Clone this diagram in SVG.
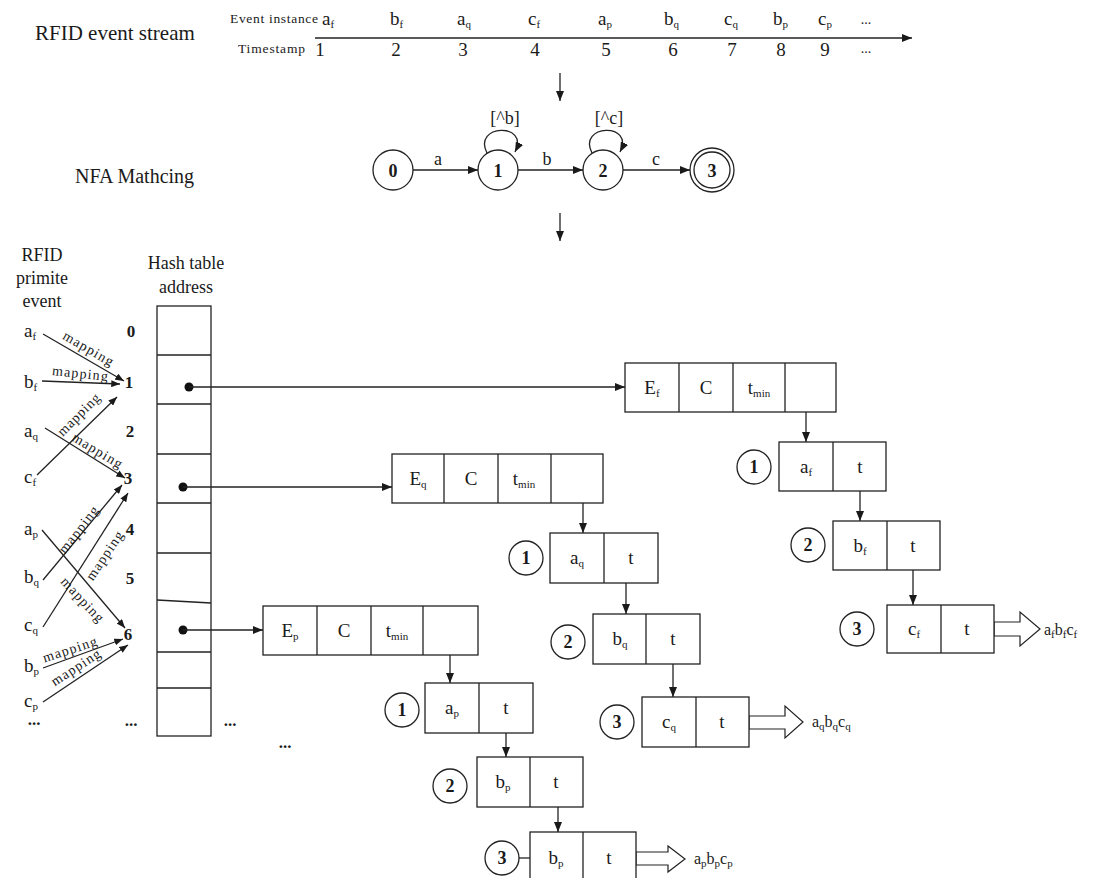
<svg xmlns="http://www.w3.org/2000/svg" width="1098" height="878" viewBox="0 0 1098 878">
<defs>
<style>
.t{font-family:"Liberation Serif","Times New Roman",serif;fill:#1a1a1a}
.s{font-size:11px}
.lb{font-size:19px}
.b{font-weight:bold}
.ln{stroke:#222;stroke-width:1.3;fill:none}
.bx{fill:#fff;stroke:#222;stroke-width:1.3}
.cr{fill:#fff;stroke:#222;stroke-width:1.3}
.ha{fill:#fff;stroke:#222;stroke-width:1.2}
</style>
<marker id="ah" viewBox="0 0 10 8" refX="10" refY="4" markerWidth="10" markerHeight="8" orient="auto" markerUnits="userSpaceOnUse"><path d="M0,0 L10,4 L0,8 z" fill="#1a1a1a"/></marker>
<marker id="ahs" viewBox="0 0 10 8" refX="10" refY="4" markerWidth="9" markerHeight="7" orient="auto" markerUnits="userSpaceOnUse"><path d="M0,0 L10,4 L0,8 z" fill="#1a1a1a"/></marker>
</defs>
<rect width="1098" height="878" fill="#fff"/>

<!-- Event stream -->
<g id="event-stream">
<text class="t" x="35" y="40" font-size="21">RFID event stream</text>
<text class="t" x="230" y="23" font-size="13.5" textLength="88" lengthAdjust="spacing">Event instance</text>
<text class="t" x="238" y="53" font-size="13.5" textLength="67" lengthAdjust="spacing">Timestamp</text>
<line class="ln" x1="315" y1="38" x2="912" y2="38" marker-end="url(#ah)"/>
<g class="t" font-size="19">
<text x="322" y="25">a<tspan class="s" dy="3">f</tspan></text>
<text x="390" y="25">b<tspan class="s" dy="3">f</tspan></text>
<text x="457" y="25">a<tspan class="s" dy="3">q</tspan></text>
<text x="528" y="25">c<tspan class="s" dy="3">f</tspan></text>
<text x="598" y="25">a<tspan class="s" dy="3">p</tspan></text>
<text x="664" y="25">b<tspan class="s" dy="3">q</tspan></text>
<text x="724" y="25">c<tspan class="s" dy="3">q</tspan></text>
<text x="773" y="25">b<tspan class="s" dy="3">p</tspan></text>
<text x="818" y="25">c<tspan class="s" dy="3">p</tspan></text>
<text x="866" y="24" text-anchor="middle" font-size="14">...</text>
</g>
<g class="t" font-size="19" text-anchor="middle">
<text x="320" y="56">1</text><text x="396" y="56">2</text><text x="463" y="56">3</text>
<text x="535" y="56">4</text><text x="606" y="56">5</text><text x="673" y="56">6</text>
<text x="732" y="56">7</text><text x="781" y="56">8</text><text x="825" y="56">9</text>
<text x="866" y="53" font-size="14">...</text>
</g>
</g>

<g id="down-arrows">
<line class="ln" x1="560" y1="73" x2="560" y2="101" marker-end="url(#ah)"/>
<line class="ln" x1="560" y1="213" x2="560" y2="241" marker-end="url(#ah)"/>
</g>

<!-- NFA -->
<g id="nfa">
<text class="t" x="75" y="183" font-size="20">NFA Mathcing</text>
<g id="s0"><circle class="cr" cx="393" cy="170" r="20"/><text class="t b" x="393" y="177" font-size="18" text-anchor="middle">0</text></g>
<g id="s1"><circle class="cr" cx="498" cy="170" r="20"/><text class="t b" x="498" y="177" font-size="18" text-anchor="middle">1</text></g>
<g id="s2"><circle class="cr" cx="603" cy="170" r="20"/><text class="t b" x="603" y="177" font-size="18" text-anchor="middle">2</text></g>
<g id="s3"><circle class="cr" cx="712" cy="170" r="22"/><circle class="cr" cx="712" cy="170" r="18"/><text class="t b" x="712" y="177" font-size="18" text-anchor="middle">3</text></g>
<g id="nfa-edges">
<line class="ln" x1="413" y1="170" x2="478" y2="170" marker-end="url(#ah)"/>
<line class="ln" x1="518" y1="170" x2="583" y2="170" marker-end="url(#ah)"/>
<line class="ln" x1="623" y1="170" x2="690" y2="170" marker-end="url(#ah)"/>
<path class="ln" d="M487,153 C472,124 530,122 515,152" marker-end="url(#ah)"/>
<path class="ln" d="M592,153 C577,124 635,122 620,152" marker-end="url(#ah)"/>
<g class="t" font-size="18" text-anchor="middle">
<text x="438" y="165">a</text><text x="547" y="165">b</text><text x="656" y="165">c</text>
<text x="505" y="124">[^b]</text><text x="609" y="124">[^c]</text>
</g>
</g>
</g>

<!-- Primitive events -->
<g id="primitive-events" class="t">
<g font-size="18" text-anchor="middle"><text x="42" y="261">RFID</text><text x="42" y="284">primite</text><text x="42" y="307">event</text></g>
<g font-size="19">
<text x="24" y="337">a<tspan class="s" dy="3">f</tspan></text>
<text x="24" y="388">b<tspan class="s" dy="3">f</tspan></text>
<text x="24" y="437">a<tspan class="s" dy="3">q</tspan></text>
<text x="24" y="483">c<tspan class="s" dy="3">f</tspan></text>
<text x="24" y="535">a<tspan class="s" dy="3">p</tspan></text>
<text x="24" y="583">b<tspan class="s" dy="3">q</tspan></text>
<text x="24" y="631">c<tspan class="s" dy="3">q</tspan></text>
<text x="24" y="672">b<tspan class="s" dy="3">p</tspan></text>
<text x="24" y="707">c<tspan class="s" dy="3">p</tspan></text>
<text x="34" y="725" text-anchor="middle" font-weight="bold" font-size="17">...</text>
</g>
</g>

<!-- Hash table -->
<g id="hash-table">
<g class="t" font-size="18" text-anchor="middle"><text x="186" y="269">Hash table</text><text x="186" y="293">address</text></g>
<rect class="bx" x="157" y="306" width="54" height="430"/>
<g class="ln">
<line x1="157" y1="355" x2="211" y2="355"/><line x1="157" y1="404" x2="211" y2="404"/>
<line x1="157" y1="454" x2="211" y2="454"/><line x1="157" y1="503" x2="211" y2="503"/>
<line x1="157" y1="553" x2="211" y2="553"/><line x1="157" y1="600" x2="211" y2="603"/>
<line x1="157" y1="652" x2="211" y2="652"/><line x1="157" y1="688" x2="211" y2="688"/>
</g>
<g class="t b" font-size="17" text-anchor="middle">
<text x="131" y="337">0</text><text x="129" y="388">1</text><text x="130" y="437">2</text>
<text x="128" y="484">3</text><text x="130" y="535">4</text><text x="130" y="584">5</text>
<text x="128" y="640">6</text><text x="131" y="726">...</text>
</g>
<text class="t b" x="230" y="726" font-size="17" text-anchor="middle">...</text>
<circle cx="189" cy="387" r="4.5" fill="#111"/>
<circle cx="183" cy="487" r="4.5" fill="#111"/>
<circle cx="183" cy="630" r="4.5" fill="#111"/>
</g>

<!-- Connectors -->
<g id="connectors">
<g id="mapping-lines">
<line class="ln" x1="43" y1="334" x2="124" y2="381" marker-end="url(#ahs)"/>
<line class="ln" x1="42" y1="381" x2="120" y2="384" marker-end="url(#ahs)"/>
<line class="ln" x1="37" y1="475" x2="117" y2="397" marker-end="url(#ahs)"/>
<line class="ln" x1="45" y1="428" x2="125" y2="478" marker-end="url(#ahs)"/>
<line class="ln" x1="43" y1="580" x2="122" y2="485" marker-end="url(#ahs)"/>
<line class="ln" x1="43" y1="627" x2="128" y2="493" marker-end="url(#ahs)"/>
<line class="ln" x1="42" y1="530" x2="125" y2="628" marker-end="url(#ahs)"/>
<line class="ln" x1="43" y1="668" x2="123" y2="639" marker-end="url(#ahs)"/>
<line class="ln" x1="43" y1="702" x2="128" y2="645" marker-end="url(#ahs)"/>
<g class="t" font-size="14" text-anchor="middle">
<text transform="translate(88,349) rotate(30)" y="4" textLength="56" lengthAdjust="spacing">mapping</text>
<text transform="translate(80,374) rotate(6)" y="4" textLength="56" lengthAdjust="spacing">mapping</text>
<text transform="translate(79,415) rotate(-45)" y="4" textLength="54" lengthAdjust="spacing">mapping</text>
<text transform="translate(97,451) rotate(31)" y="4" textLength="56" lengthAdjust="spacing">mapping</text>
<text transform="translate(79,530) rotate(-52)" y="4" textLength="56" lengthAdjust="spacing">mapping</text>
<text transform="translate(105,556) rotate(-56)" y="4" textLength="56" lengthAdjust="spacing">mapping</text>
<text transform="translate(82,600) rotate(47)" y="4" textLength="56" lengthAdjust="spacing">mapping</text>
<text transform="translate(70,650) rotate(-18)" y="4" textLength="56" lengthAdjust="spacing">mapping</text>
<text transform="translate(76,668) rotate(-33)" y="4" textLength="56" lengthAdjust="spacing">mapping</text>
</g>
</g>
<line class="ln" x1="189" y1="387" x2="625" y2="387" marker-end="url(#ah)"/>
<line class="ln" x1="183" y1="487" x2="392" y2="487" marker-end="url(#ah)"/>
<line class="ln" x1="183" y1="630" x2="263" y2="630" marker-end="url(#ah)"/>
<line class="ln" x1="806" y1="387" x2="806" y2="442" marker-end="url(#ah)"/>
<line class="ln" x1="860" y1="491" x2="860" y2="521" marker-end="url(#ah)"/>
<line class="ln" x1="913" y1="570" x2="913" y2="605" marker-end="url(#ah)"/>
<line class="ln" x1="583" y1="478" x2="583" y2="533" marker-end="url(#ah)"/>
<line class="ln" x1="626" y1="583" x2="626" y2="614" marker-end="url(#ah)"/>
<line class="ln" x1="673" y1="664" x2="673" y2="697" marker-end="url(#ah)"/>
<line class="ln" x1="450" y1="632" x2="450" y2="683" marker-end="url(#ah)"/>
<line class="ln" x1="506" y1="733" x2="506" y2="757" marker-end="url(#ah)"/>
<line class="ln" x1="558" y1="807" x2="558" y2="832" marker-end="url(#ah)"/>
<line class="ln" x1="519" y1="858" x2="530" y2="858"/>
<polygon class="ha" points="994,622 1020,622 1020,612 1040,629 1020,646 1020,636 994,636"/>
<polygon class="ha" points="749,716 785,716 785,706 803,722 785,738 785,729 749,729"/>
<polygon class="ha" points="636,852 668,852 668,846 685,859 668,872 668,865 636,865"/>
</g>

<!-- Record F -->
<g id="rec-f">
<rect class="bx" x="625" y="363" width="211" height="49"/>
<g class="ln"><line x1="679" y1="363" x2="679" y2="412"/><line x1="733" y1="363" x2="733" y2="412"/><line x1="785" y1="363" x2="785" y2="412"/></g>
<g class="t lb" text-anchor="middle">
<text x="652" y="394">E<tspan class="s" dy="3">f</tspan></text>
<text x="706" y="394">C</text>
<text x="759" y="394">t<tspan class="s" dy="3">min</tspan></text>
</g>
</g>
<g id="node-f1">
<circle class="cr" cx="754" cy="467" r="17"/><text class="t b" x="754" y="473" font-size="18" text-anchor="middle">1</text>
<rect class="bx" x="779" y="442" width="107" height="49"/><line class="ln" x1="833" y1="442" x2="833" y2="491"/>
<g class="t lb" text-anchor="middle"><text x="806" y="473">a<tspan class="s" dy="3">f</tspan></text><text x="860" y="473">t</text></g>
</g>
<g id="node-f2">
<circle class="cr" cx="808" cy="545" r="17"/><text class="t b" x="808" y="551" font-size="18" text-anchor="middle">2</text>
<rect class="bx" x="833" y="521" width="107" height="49"/><line class="ln" x1="887" y1="521" x2="887" y2="570"/>
<g class="t lb" text-anchor="middle"><text x="860" y="552">b<tspan class="s" dy="3">f</tspan></text><text x="913" y="552">t</text></g>
</g>
<g id="node-f3">
<circle class="cr" cx="857" cy="629" r="17"/><text class="t b" x="857" y="635" font-size="18" text-anchor="middle">3</text>
<rect class="bx" x="887" y="605" width="107" height="48"/><line class="ln" x1="941" y1="605" x2="941" y2="653"/>
<g class="t lb" text-anchor="middle"><text x="914" y="635">c<tspan class="s" dy="3">f</tspan></text><text x="967" y="635">t</text></g>
<text class="t" x="1044" y="635" font-size="16">a<tspan class="s" dy="3">f</tspan><tspan dy="-3">b</tspan><tspan class="s" dy="3">f</tspan><tspan dy="-3">c</tspan><tspan class="s" dy="3">f</tspan></text>
</g>

<!-- Record Q -->
<g id="rec-q">
<rect class="bx" x="392" y="454" width="211" height="49"/>
<g class="ln"><line x1="444" y1="454" x2="444" y2="503"/><line x1="498" y1="454" x2="498" y2="503"/><line x1="551" y1="454" x2="551" y2="503"/></g>
<g class="t lb" text-anchor="middle">
<text x="418" y="485">E<tspan class="s" dy="3">q</tspan></text>
<text x="471" y="485">C</text>
<text x="524" y="485">t<tspan class="s" dy="3">min</tspan></text>
</g>
</g>
<g id="node-q1">
<circle class="cr" cx="526" cy="558" r="17"/><text class="t b" x="526" y="564" font-size="18" text-anchor="middle">1</text>
<rect class="bx" x="550" y="533" width="108" height="50"/><line class="ln" x1="604" y1="533" x2="604" y2="583"/>
<g class="t lb" text-anchor="middle"><text x="577" y="564">a<tspan class="s" dy="3">q</tspan></text><text x="631" y="564">t</text></g>
</g>
<g id="node-q2">
<circle class="cr" cx="568" cy="642" r="17"/><text class="t b" x="568" y="648" font-size="18" text-anchor="middle">2</text>
<rect class="bx" x="593" y="614" width="107" height="50"/><line class="ln" x1="646" y1="614" x2="646" y2="664"/>
<g class="t lb" text-anchor="middle"><text x="620" y="645">b<tspan class="s" dy="3">q</tspan></text><text x="673" y="645">t</text></g>
</g>
<g id="node-q3">
<circle class="cr" cx="617" cy="722" r="17"/><text class="t b" x="617" y="728" font-size="18" text-anchor="middle">3</text>
<rect class="bx" x="642" y="697" width="107" height="50"/><line class="ln" x1="696" y1="697" x2="696" y2="747"/>
<g class="t lb" text-anchor="middle"><text x="669" y="728">c<tspan class="s" dy="3">q</tspan></text><text x="722" y="728">t</text></g>
<text class="t" x="812" y="727" font-size="16">a<tspan class="s" dy="3">q</tspan><tspan dy="-3">b</tspan><tspan class="s" dy="3">q</tspan><tspan dy="-3">c</tspan><tspan class="s" dy="3">q</tspan></text>
</g>

<!-- Record P -->
<g id="rec-p">
<rect class="bx" x="263" y="606" width="215" height="49"/>
<g class="ln"><line x1="317" y1="606" x2="317" y2="655"/><line x1="371" y1="606" x2="371" y2="655"/><line x1="423" y1="606" x2="423" y2="655"/></g>
<g class="t lb" text-anchor="middle">
<text x="290" y="637">E<tspan class="s" dy="3">p</tspan></text>
<text x="344" y="637">C</text>
<text x="397" y="637">t<tspan class="s" dy="3">min</tspan></text>
</g>
<text class="t b" x="285" y="748" font-size="17" text-anchor="middle">...</text>
</g>
<g id="node-p1">
<circle class="cr" cx="402" cy="710" r="17"/><text class="t b" x="402" y="716" font-size="18" text-anchor="middle">1</text>
<rect class="bx" x="425" y="683" width="108" height="50"/><line class="ln" x1="479" y1="683" x2="479" y2="733"/>
<g class="t lb" text-anchor="middle"><text x="452" y="714">a<tspan class="s" dy="3">p</tspan></text><text x="506" y="714">t</text></g>
</g>
<g id="node-p2">
<circle class="cr" cx="450" cy="786" r="17"/><text class="t b" x="450" y="792" font-size="18" text-anchor="middle">2</text>
<rect class="bx" x="477" y="757" width="106" height="50"/><line class="ln" x1="530" y1="757" x2="530" y2="807"/>
<g class="t lb" text-anchor="middle"><text x="503" y="788">b<tspan class="s" dy="3">p</tspan></text><text x="556" y="788">t</text></g>
</g>
<g id="node-p3">
<circle class="cr" cx="502" cy="858" r="17"/><text class="t b" x="502" y="864" font-size="18" text-anchor="middle">3</text>
<rect class="bx" x="530" y="832" width="106" height="50"/><line class="ln" x1="583" y1="832" x2="583" y2="882"/>
<g class="t lb" text-anchor="middle"><text x="556" y="864">b<tspan class="s" dy="3">p</tspan></text><text x="609" y="864">t</text></g>
<text class="t" x="694" y="864" font-size="16">a<tspan class="s" dy="3">p</tspan><tspan dy="-3">b</tspan><tspan class="s" dy="3">p</tspan><tspan dy="-3">c</tspan><tspan class="s" dy="3">p</tspan></text>
</g>
</svg>
